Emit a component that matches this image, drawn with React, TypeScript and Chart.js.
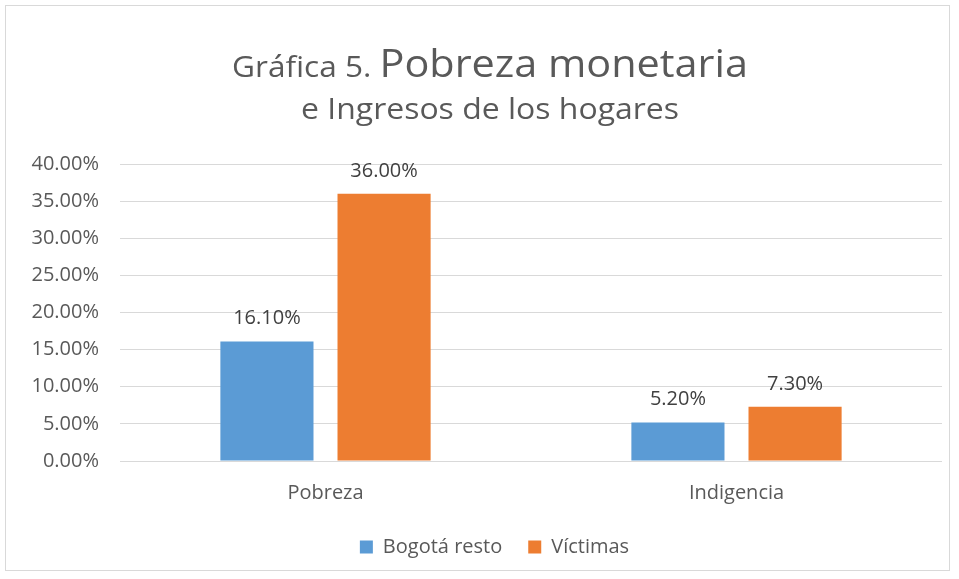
import React, { useEffect, useRef } from 'react';
import { Chart, registerables } from 'chart.js';

Chart.register(...registerables);

const categories = ['Pobreza', 'Indigencia'];
const seriesNames = ['Bogotá resto', 'Víctimas'];
const bogotaResto = [16.1, 5.2];
const victimas = [36.0, 7.3];
const yMin = 0;
const yMax = 40;
const yStep = 5;
const titleSmall = 'Gráfica 5. ';
const titleLarge = 'Pobreza monetaria';
const titleLine2 = 'e Ingresos de los hogares';

const BLUE = '#5B9BD5';
const ORANGE = '#ED7D31';
const TEXT = '#595959';
const FONT = "'Open Sans', sans-serif";

const titlePlugin = {
  id: 'mixedTitle',
  afterDraw(chart: any) {
    const ctx = chart.ctx;
    ctx.save();
    ctx.fillStyle = TEXT;
    ctx.textBaseline = 'alphabetic';
    ctx.textAlign = 'left';
    const smallFont = `29px ${FONT}`;
    const largeFont = `38px ${FONT}`;
    ctx.font = smallFont;
    const w1 = ctx.measureText(titleSmall).width;
    ctx.font = largeFont;
    const w2 = ctx.measureText(titleLarge).width;
    const target1 = 516;
    const s1 = target1 / (w1 + w2);
    const cx = 490;
    ctx.save();
    ctx.translate(cx - target1 / 2, 77);
    ctx.scale(s1, 1);
    ctx.font = smallFont;
    ctx.fillText(titleSmall, 0, 0);
    ctx.font = largeFont;
    ctx.fillText(titleLarge, w1, 0);
    ctx.restore();
    const l2Font = `30px ${FONT}`;
    ctx.font = l2Font;
    const w3 = ctx.measureText(titleLine2).width;
    const target2 = 378;
    const s2 = target2 / w3;
    ctx.save();
    ctx.translate(cx - target2 / 2, 119);
    ctx.scale(s2, 1);
    ctx.fillText(titleLine2, 0, 0);
    ctx.restore();
    ctx.restore();
  },
};

const valueLabelPlugin = {
  id: 'valueLabels',
  afterDatasetsDraw(chart: any) {
    const ctx = chart.ctx;
    ctx.save();
    ctx.font = `20px ${FONT}`;
    ctx.fillStyle = '#404040';
    ctx.textAlign = 'center';
    ctx.textBaseline = 'alphabetic';
    chart.data.datasets.forEach((ds: any, di: number) => {
      const meta = chart.getDatasetMeta(di);
      meta.data.forEach((bar: any, i: number) => {
        const v = ds.data[i];
        ctx.fillText(v.toFixed(2) + '%', bar.x, bar.y - 17);
      });
    });
    ctx.restore();
  },
};

const legendShiftPlugin = {
  id: 'legendShift',
  afterLayout(chart: any) {
    const lg = chart.legend;
    if (lg) {
      lg.left += 11;
      lg.right += 11;
    }
  },
};

export default function App() {
  const canvasRef = useRef<HTMLCanvasElement | null>(null);

  useEffect(() => {
    if (!canvasRef.current) return;
    const chart = new Chart(canvasRef.current, {
      type: 'bar',
      data: {
        labels: categories,
        datasets: [
          {
            label: seriesNames[0],
            data: bogotaResto,
            backgroundColor: BLUE,
            categoryPercentage: 0.57,
            barPercentage: 0.795,
          },
          {
            label: seriesNames[1],
            data: victimas,
            backgroundColor: ORANGE,
            categoryPercentage: 0.57,
            barPercentage: 0.795,
          },
        ],
      },
      options: {
        responsive: false,
        animation: false,
        devicePixelRatio: 1,
        layout: { padding: { top: 164, left: 25, right: 17, bottom: 12 } },
        plugins: {
          title: { display: false },
          tooltip: { enabled: false },
          legend: {
            display: true,
            position: 'bottom',
            labels: {
              boxWidth: 13,
              boxHeight: 13,
              padding: 26,
              color: TEXT,
              font: { family: FONT, size: 20 },
            },
          },
        },
        scales: {
          x: {
            grid: { display: false, drawTicks: false },
            border: { display: false },
            ticks: { color: TEXT, font: { family: FONT, size: 20 }, padding: 20 },
            afterFit: (axis: any) => {
              axis.height = 50;
            },
          },
          y: {
            min: yMin,
            max: yMax,
            grid: { color: '#d9d9d9', lineWidth: 1, drawTicks: false },
            border: { display: false },
            ticks: {
              stepSize: yStep,
              color: TEXT,
              font: { family: FONT, size: 20 },
              padding: 21,
              callback: (v: any) => Number(v).toFixed(2) + '%',
            },
            afterFit: (axis: any) => {
              axis.width = 95;
            },
          },
        },
      },
      plugins: [titlePlugin, valueLabelPlugin, legendShiftPlugin],
    });
    return () => chart.destroy();
  }, []);

  return (
    <div style={{ position: 'absolute', left: 0, top: 0, width: 959, height: 579, background: '#fff' }}>
      <div
        style={{
          position: 'absolute',
          left: 5,
          top: 5,
          width: 945,
          height: 566,
          border: '1px solid #d9d9d9',
          boxSizing: 'border-box',
        }}
      />
      <canvas ref={canvasRef} width={959} height={579} style={{ position: 'absolute', left: 0, top: 0 }} />
    </div>
  );
}
